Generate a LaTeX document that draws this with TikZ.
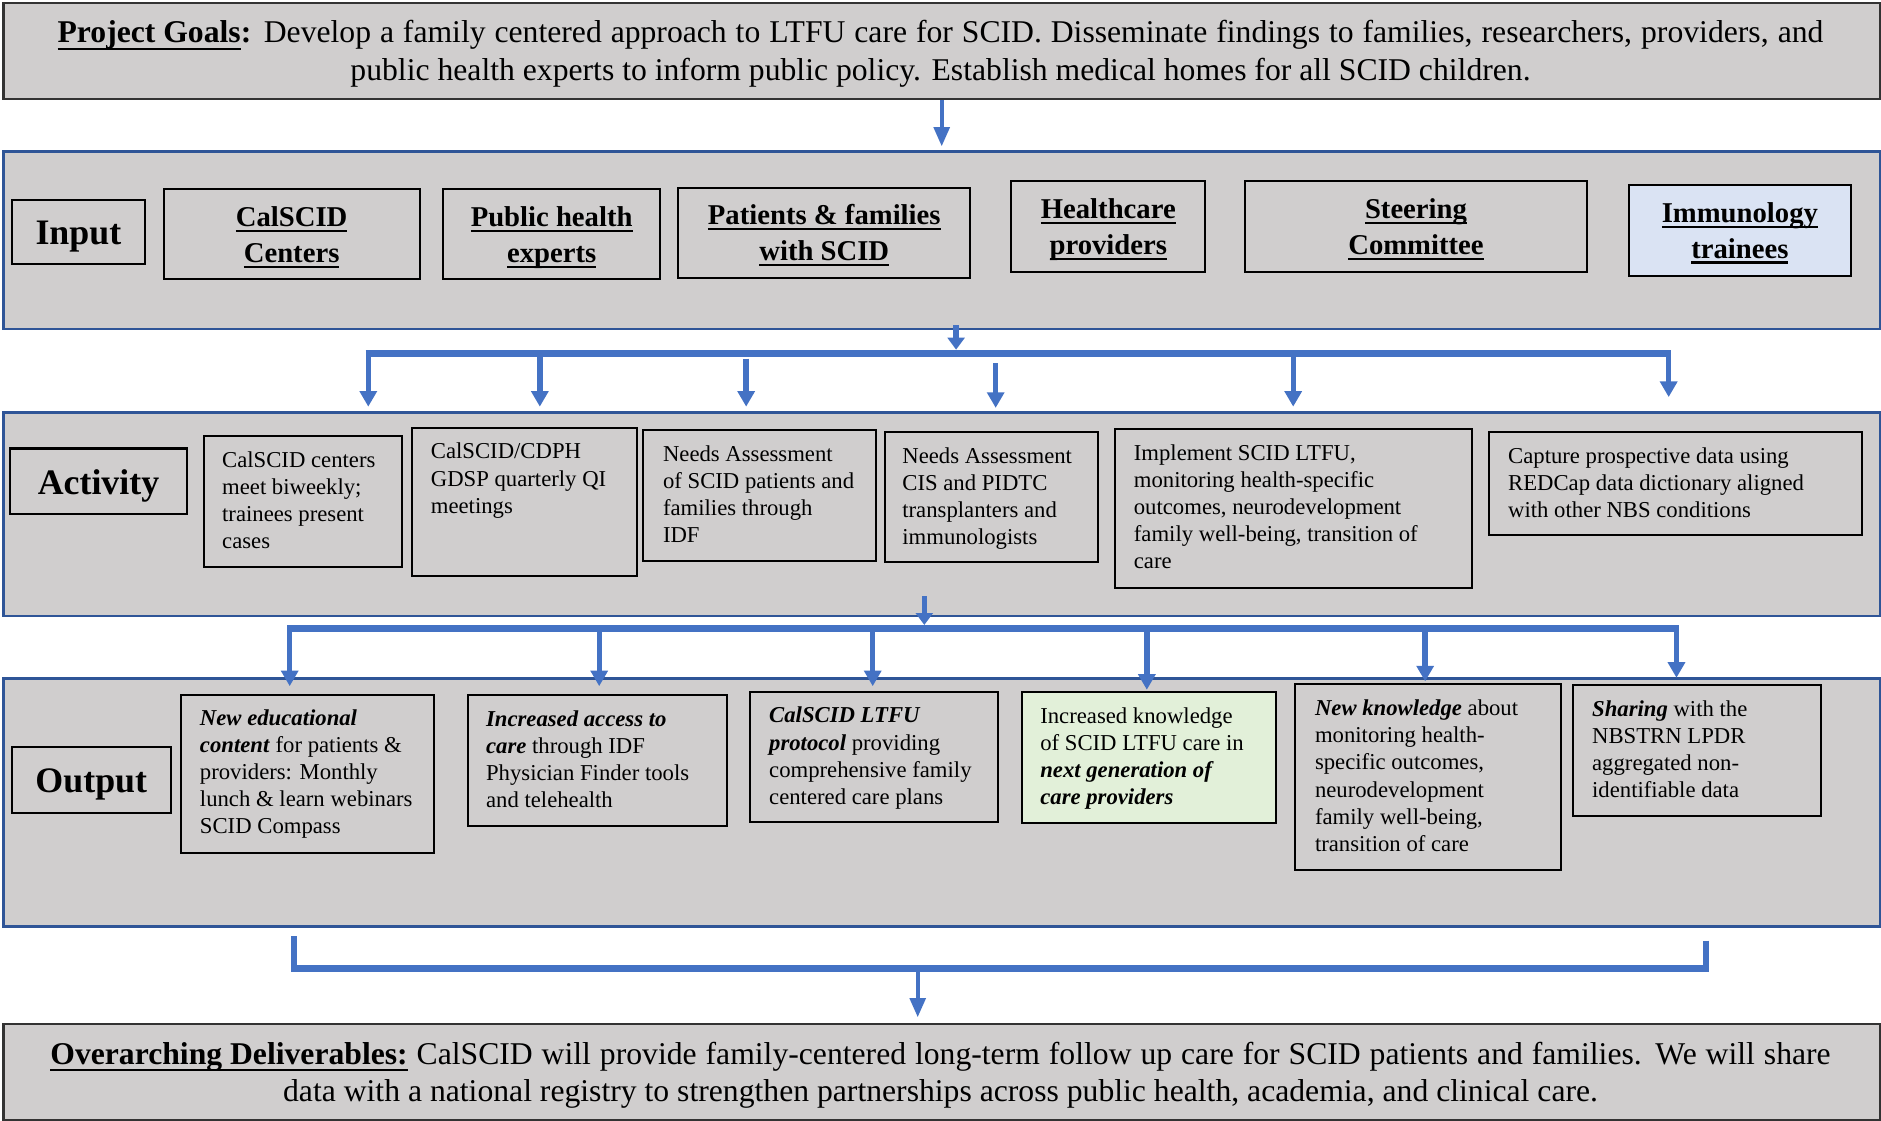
\documentclass[tikz,border=0pt]{standalone}
\usepackage{fontspec}
\setmainfont{Liberation Serif}
\usetikzlibrary{arrows.meta,calc}
\definecolor{secgray}{HTML}{D0CECE}
\definecolor{arrblue}{HTML}{4472C4}
\definecolor{secblue}{HTML}{2F5597}
\definecolor{boxblue}{HTML}{DAE3F3}
\definecolor{boxgreen}{HTML}{E2F0D9}
\definecolor{framegray}{HTML}{333333}
\newcommand{\bi}[1]{\textbf{\textit{#1}}}
\newsavebox{\myulbox}
\newcommand{\ulx}[3]{\sbox\myulbox{#3}\leavevmode\rlap{\rule[\dimexpr-#1-#2\relax]{\wd\myulbox}{#2}}\usebox\myulbox}
\newcommand{\uli}[1]{\ulx{2.6bp}{1.8bp}{#1}}
\newcommand{\ulg}[1]{\ulx{4bp}{2bp}{#1}}
\tikzset{
  secbox/.style={draw=secblue, line width=2.2bp, fill=secgray, anchor=north west, inner sep=0pt},
  framebox/.style={draw=framegray, line width=2bp, fill=secgray, anchor=north west, inner sep=0pt},
  itembox/.style={draw=black, line width=1.7bp, fill=secgray, anchor=north west, inner sep=0pt},
  headlabel/.style={itembox, font=\fontsize{30}{34}\selectfont\bfseries, text height=21bp, text depth=0bp},
  inputitem/.style={itembox, font=\fontsize{24}{30}\selectfont\bfseries, align=center, text height=50bp, text depth=3bp},
  bodytext/.style={anchor=north west, inner sep=0pt, align=left, font=\fontsize{19}{22.7}\selectfont},
  widetext/.style={anchor=north, inner sep=0pt, align=center, font=\fontsize{26.5}{31}\selectfont},
  blueBar/.style={draw=arrblue, line width=6bp},
  bluePost/.style={draw=arrblue, line width=4.5bp},
  varrow/.style={draw=arrblue, line width=4.5bp, -{Triangle[width=14bp,length=13bp]}},
  stubarrow/.style={draw=arrblue, line width=4.5bp, -{Triangle[width=14bp,length=10bp]}},
  thinarrow/.style={draw=arrblue, line width=3.2bp, -{Triangle[width=13bp,length=16bp]}},
}
\begin{document}
\begin{tikzpicture}[x=1bp, y=-1bp]
\useasboundingbox (0,0) rectangle (1568,934);

% ---------- section boxes ----------
\node[framebox, minimum width=1564bp, minimum height=80bp] (goals) at (2,1.5) {};
\node[secbox, minimum width=1564bp, minimum height=148bp] (inputsec) at (2,125) {};
\node[secbox, minimum width=1564bp, minimum height=170bp] (actsec) at (2,342.5) {};
\node[secbox, minimum width=1564bp, minimum height=206.5bp] (outsec) at (2,564.5) {};
\node[framebox, minimum width=1564bp, minimum height=80bp] (deliv) at (2,852.5) {};

% ---------- goals / deliverables text ----------
\node[widetext] (goalstext) at (784,14) {\strut\makebox[1472bp][s]{\textbf{\ulg{Project Goals}:} Develop a family centered approach to LTFU care for SCID. Disseminate findings to families, researchers, providers, and}\\
public health experts to inform public policy. Establish medical homes for all SCID children.};

\node[widetext] (delivtext) at (784,865.3) {\strut\makebox[1484bp][s]{\textbf{\ulg{Overarching Deliverables:}} CalSCID will provide family-centered long-term follow up care for SCID patients and families. We will share}\\
data with a national registry to strengthen partnerships across public health, academia, and clinical care.};

% ---------- input row ----------
\node[headlabel, minimum width=111bp, minimum height=53bp] (ilabel) at (9,166) {Input};
\node[inputitem, minimum width=213.5bp, minimum height=75bp] (i1) at (135.5,157) {\uli{CalSCID}\\\uli{Centers}};
\node[inputitem, minimum width=181bp, minimum height=75bp] (i2) at (368.5,157) {\uli{Public health}\\\uli{experts}};
\node[inputitem, minimum width=243.5bp, minimum height=75bp] (i3) at (564.5,155.5) {\uli{Patients \& families}\\\uli{with SCID}};
\node[inputitem, minimum width=162bp, minimum height=76bp] (i4) at (842,150) {\uli{Healthcare}\\\uli{providers}};
\node[inputitem, minimum width=285bp, minimum height=76bp] (i5) at (1037,150) {\uli{Steering}\\\uli{Committee}};
\node[inputitem, fill=boxblue, minimum width=185bp, minimum height=76bp] (i6) at (1357,153) {\uli{Immunology}\\\uli{trainees}};

% ---------- activity row ----------
\node[headlabel, minimum width=147.5bp, minimum height=55bp] (alabel) at (7.5,373) {Activity};
\node[itembox, minimum width=165bp, minimum height=109bp] (a1) at (169,362.5) {};
\node[itembox, minimum width=187.5bp, minimum height=123bp] (a2) at (342.5,356) {};
\node[itembox, minimum width=193.5bp, minimum height=109bp] (a3) at (535.5,357.5) {};
\node[itembox, minimum width=177.5bp, minimum height=109bp] (a4) at (737,359) {};
\node[itembox, minimum width=297bp, minimum height=132bp] (a5) at (929,357) {};
\node[itembox, minimum width=311bp, minimum height=86bp] (a6) at (1240,359) {};
\node[bodytext] (a1t) at (185,373.6) {\strut CalSCID centers\\meet biweekly;\\trainees present\\cases};
\node[bodytext] (a2t) at (359,366.5) {\strut CalSCID/CDPH\\GDSP quarterly QI\\meetings};
\node[bodytext] (a3t) at (552.5,368.5) {\strut Needs Assessment\\of SCID patients and\\families through\\IDF};
\node[bodytext] (a4t) at (752,370) {\strut Needs Assessment\\CIS and PIDTC\\transplanters and\\immunologists};
\node[bodytext] (a5t) at (945,367.5) {\strut Implement SCID LTFU,\\monitoring health-specific\\outcomes, neurodevelopment\\family well-being, transition of\\care};
\node[bodytext] (a6t) at (1257,370) {\strut Capture prospective data using\\REDCap data dictionary aligned\\with other NBS conditions};

% ---------- output row ----------
\node[headlabel, minimum width=132.5bp, minimum height=55bp] (olabel) at (9,622) {Output};
\node[itembox, minimum width=211bp, minimum height=131.5bp] (o1) at (150,578.5) {};
\node[itembox, minimum width=216bp, minimum height=109bp] (o2) at (389,578.5) {};
\node[itembox, minimum width=207bp, minimum height=108bp] (o3) at (624,576) {};
\node[itembox, fill=boxgreen, minimum width=211.5bp, minimum height=109bp] (o4) at (851,576) {};
\node[itembox, minimum width=221bp, minimum height=155bp] (o5) at (1079,569) {};
\node[itembox, minimum width=207bp, minimum height=108.5bp] (o6) at (1310,570.5) {};
\node[bodytext] (o1t) at (166.5,588.6) {\strut\bi{New educational}\\\bi{content} for patients \&\\providers: Monthly\\lunch \& learn webinars\\SCID Compass};
\node[bodytext] (o2t) at (405,589.6) {\strut\bi{Increased access to}\\\bi{care} through IDF\\Physician Finder tools\\and telehealth};
\node[bodytext] (o3t) at (641,586.6) {\strut\bi{CalSCID LTFU}\\\bi{protocol} providing\\comprehensive family\\centered care plans};
\node[bodytext] (o4t) at (867,587) {\strut Increased knowledge\\of SCID LTFU care in\\\bi{next generation of}\\\bi{care providers}};
\node[bodytext] (o5t) at (1096,580.6) {\strut\bi{New knowledge} about\\monitoring health-\\specific outcomes,\\neurodevelopment\\family well-being,\\transition of care};
\node[bodytext] (o6t) at (1327,581.3) {\strut\bi{Sharing} with the\\NBSTRN LPDR\\aggregated non-\\identifiable data};

% ---------- connectors ----------
% goals -> input
\coordinate (gIn) at (785,122);
\draw[thinarrow] (goals.south -| gIn) -- (gIn);

% input -> activity distribution bar
\coordinate (inStubS) at (797,271);
\coordinate (inStubE) at (797,291.5);
\draw[stubarrow] (inStubS) -- (inStubE);
\coordinate (b1L) at (307,294.5);
\coordinate (b1R) at (1391,294.5);
\draw[blueBar] ([xshift=-2.25bp]b1L) -- ([xshift=2.25bp]b1R);
\coordinate (b1b) at (450,294.5);
\coordinate (b1c) at (622,299);
\coordinate (b1d) at (830,303);
\coordinate (b1e) at (1078,294.5);
\draw[varrow] (b1L) -- ([yshift=3.5bp]b1L |- actsec.north);
\draw[varrow] (b1b) -- ([yshift=3.5bp]b1b |- actsec.north);
\draw[varrow] (b1c) -- ([yshift=3.5bp]b1c |- actsec.north);
\draw[varrow] (b1d) -- ([yshift=2.5bp]b1d |- actsec.north);
\draw[varrow] (b1e) -- ([yshift=3.5bp]b1e |- actsec.north);
\draw[varrow] (b1R) -- ([yshift=11.5bp]b1R |- actsec.north);

% activity -> output distribution bar
\coordinate (acStubS) at (770.5,497);
\coordinate (acStubE) at (770.5,521);
\draw[stubarrow] (acStubS) -- (acStubE);
\coordinate (b2L) at (241.5,524);
\coordinate (b2R) at (1397.5,524);
\draw[blueBar] ([xshift=-2.25bp]b2L) -- ([xshift=2.25bp]b2R);
\coordinate (b2b) at (499.5,524);
\coordinate (b2c) at (727.5,524);
\coordinate (b2d) at (956,524);
\coordinate (b2e) at (1188,524);
\coordinate (t2a) at (241.5,572);
\coordinate (t2b) at (499.5,572);
\coordinate (t2c) at (727.5,572);
\coordinate (t2d) at (956,575);
\coordinate (t2e) at (1188,568);
\coordinate (t2f) at (1397.5,565);
\draw[varrow] (b2L) -- (t2a);
\draw[varrow] (b2b) -- (t2b);
\draw[varrow] (b2c) -- (t2c);
\draw[varrow] (b2d) -- (t2d);
\draw[varrow] (b2e) -- (t2e);
\draw[varrow] (b2R) -- (t2f);

% output -> deliverables bracket
\coordinate (bkL) at (245,780.5);
\coordinate (bkLb) at (245,807);
\coordinate (bkR) at (1422,784);
\coordinate (bkRb) at (1422,807);
\draw[bluePost] (bkL) -- (bkLb);
\draw[bluePost] (bkR) -- (bkRb);
\draw[blueBar] ([xshift=-2.25bp]bkLb) -- ([xshift=2.25bp]bkRb);
\coordinate (dlv) at (765,810);
\draw[thinarrow] (dlv) -- ([yshift=4.5bp]dlv |- deliv.north);
\end{tikzpicture}
\end{document}
